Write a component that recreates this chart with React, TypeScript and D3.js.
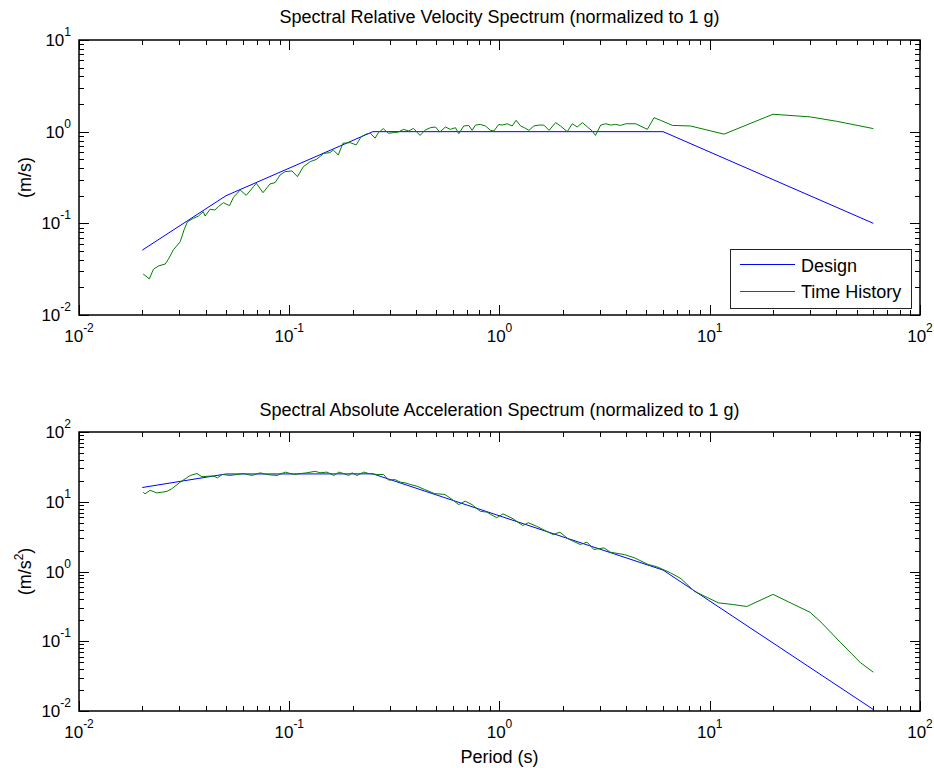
import React from 'react';
import * as d3 from 'd3';

// ---------- Data ----------
const velDesignT = [0.02, 0.05, 0.25, 6, 60];
const velDesign = [0.051, 0.2, 1.0, 1.0, 0.1];

const velHistT = [
  0.0202, 0.0216, 0.0226, 0.0239, 0.0257, 0.0266, 0.0281, 0.0303, 0.0316, 0.0328,
  0.035, 0.037, 0.039, 0.0398, 0.042, 0.0443, 0.046, 0.0486, 0.052, 0.0543,
  0.0584, 0.0624, 0.0676, 0.0697, 0.075, 0.081, 0.0856, 0.0905, 0.0955, 0.103,
  0.1094, 0.1167, 0.126, 0.135, 0.146, 0.156, 0.162, 0.171, 0.18, 0.195,
  0.208, 0.22, 0.233, 0.243, 0.256, 0.265, 0.28, 0.296, 0.312, 0.33,
  0.35, 0.37, 0.39, 0.419, 0.444, 0.469, 0.496, 0.52, 0.553, 0.584,
  0.617, 0.64, 0.676, 0.714, 0.741, 0.769, 0.81, 0.858, 0.906, 0.94,
  0.993, 1.03, 1.088, 1.149, 1.2, 1.26, 1.315, 1.38, 1.457, 1.54,
  1.625, 1.72, 1.85, 1.95, 2.1, 2.22, 2.34, 2.48, 2.62, 2.76,
  2.86, 3.03, 3.2, 3.38, 3.57, 3.77, 3.98, 4.44, 5.05, 5.43,
  5.84, 6.64, 8.1, 11.7, 20, 30, 40, 60,
];
const velHist = [
  0.028, 0.0248, 0.0316, 0.0343, 0.036, 0.0405, 0.0513, 0.063, 0.0848, 0.104,
  0.1135, 0.12, 0.134, 0.12, 0.1425, 0.14, 0.152, 0.168, 0.156, 0.192,
  0.231, 0.202, 0.251, 0.274, 0.216, 0.269, 0.278, 0.337, 0.366, 0.373,
  0.323, 0.415, 0.471, 0.5, 0.58, 0.59, 0.63, 0.557, 0.747, 0.759,
  0.716, 0.882, 0.944, 0.96, 0.85, 0.97, 1.08, 0.96, 0.975, 0.99,
  1.06, 1.017, 1.087, 0.91, 1.043, 1.105, 1.124, 0.99, 1.124, 1.06,
  1.105, 0.95, 1.153, 1.17, 1.034, 1.18, 1.2, 1.153, 1.034, 1.017,
  1.2, 1.18, 1.22, 1.153, 1.33, 1.153, 1.105, 1.034, 1.153, 1.18,
  1.18, 1.034, 1.254, 1.153, 1.0, 1.22, 1.124, 1.254, 1.124, 1.017,
  0.91, 1.18, 1.22, 1.18, 1.2, 1.17, 1.22, 1.22, 1.06, 1.42,
  1.33, 1.17, 1.153, 0.94, 1.55, 1.45, 1.3, 1.08,
];

const accDesignT = [0.02, 0.05, 0.25, 6, 60];
const accDesign = [16, 25, 25.1, 1.047, 0.0105];

const accHistT = [
  0.0202, 0.0206, 0.0218, 0.0234, 0.0248, 0.0262, 0.0276, 0.0303, 0.0338, 0.0364,
  0.0384, 0.0413, 0.0437, 0.0455, 0.048, 0.0524, 0.0564, 0.0606, 0.0664, 0.0728,
  0.078, 0.0874, 0.0957, 0.105, 0.121, 0.133, 0.14, 0.151, 0.163, 0.172,
  0.181, 0.192, 0.199, 0.21, 0.226, 0.239, 0.262, 0.281, 0.297, 0.318,
  0.338, 0.36, 0.376, 0.405, 0.44, 0.49, 0.55, 0.59, 0.64, 0.687,
  0.74, 0.81, 0.87, 0.97, 1.04, 1.16, 1.29, 1.37, 1.5, 1.67,
  1.8, 1.94, 2.12, 2.42, 2.61, 2.81, 3.14, 3.37, 3.92, 4.39,
  5.09, 5.6, 6.5, 7.3, 8.45, 9.8, 11.0, 12.8, 15, 20,
  30, 33.8, 42, 52.2, 60,
];
const accHist = [
  13.7, 13.0, 14.6, 13.4, 13.7, 14.1, 15.3, 19.1, 23.8, 25.4,
  22.8, 23.3, 23.3, 22.0, 24.6, 23.8, 24.6, 25.4, 23.8, 26.0,
  24.6, 23.8, 26.6, 24.6, 26.0, 27.3, 26.0, 26.6, 23.8, 26.6,
  25.4, 23.8, 26.0, 23.8, 26.6, 25.4, 24.6, 24.6, 20.4, 20.8,
  19.1, 18.5, 17.7, 16.7, 15.0, 13.1, 12.7, 11.0, 9.1, 10.2,
  9.1, 7.3, 7.1, 5.9, 6.7, 5.7, 4.56, 5.0, 4.46, 3.78,
  3.39, 3.66, 2.94, 2.44, 2.63, 2.07, 2.18, 1.89, 1.75, 1.57,
  1.26, 1.17, 0.96, 0.79, 0.52, 0.42, 0.355, 0.337, 0.315, 0.47,
  0.26, 0.188, 0.095, 0.049, 0.036,
];

const xDecades = [-2, -1, 0, 1, 2];
const velDecades = [-2, -1, 0, 1];
const accDecades = [-2, -1, 0, 1, 2];

const titles = [
  'Spectral Relative Velocity Spectrum (normalized to 1 g)',
  'Spectral Absolute Acceleration Spectrum (normalized to 1 g)',
];
const legendLabels = ['Design', 'Time History'];
const xLabel = 'Period (s)';

// ---------- Layout ----------
const W = 934;
const H = 768;
const left = 79;
const right = 920;
const FONT = '"Liberation Sans", Arial, sans-serif';
const BLUE = '#0000ff';
const GREEN = '#008000';

type PanelProps = {
  top: number;
  bottom: number;
  yDomain: [number, number];
  yDecades: number[];
  design: [number[], number[]];
  hist: [number[], number[]];
  title: string;
  titleY: number;
  yLabel: React.ReactNode;
  legend?: boolean;
};

function minorValues(d0: number, d1: number): number[] {
  const out: number[] = [];
  for (let d = d0; d < d1; d++) {
    for (let m = 2; m <= 9; m++) out.push(m * Math.pow(10, d));
  }
  return out;
}

function Panel(p: PanelProps) {
  const x = d3.scaleLog().domain([1e-2, 1e2]).range([left, right]);
  const y = d3.scaleLog().domain(p.yDomain).range([p.bottom, p.top]);
  const line = d3
    .line<[number, number]>()
    .x((d) => x(d[0]))
    .y((d) => y(d[1]));
  const designPts = p.design[0].map((t, i) => [t, p.design[1][i]] as [number, number]);
  const histPts = p.hist[0].map((t, i) => [t, p.hist[1][i]] as [number, number]);

  const xMinor = minorValues(-2, 2);
  const yMinor = minorValues(p.yDecades[0], p.yDecades[p.yDecades.length - 1]);
  const MAJ = 10;
  const MIN = 5;
  const tickStroke = { stroke: '#000', strokeWidth: 1 };

  return (
    <g>
      <text x={(left + right) / 2} y={p.titleY} textAnchor="middle" fontSize={18} fontFamily={FONT} fill="#000">
        {p.title}
      </text>
      {/* Lines */}
      <path d={line(designPts) || ''} fill="none" stroke={BLUE} strokeWidth={1} />
      <path d={line(histPts) || ''} fill="none" stroke={GREEN} strokeWidth={1} />
      {/* x ticks */}
      {xDecades.map((d) => {
        const xx = Math.round(x(Math.pow(10, d))) + 0.5;
        return (
          <g key={'xM' + d}>
            <line x1={xx} x2={xx} y1={p.bottom} y2={p.bottom - MAJ} {...tickStroke} />
            <line x1={xx} x2={xx} y1={p.top} y2={p.top + MAJ} {...tickStroke} />
            <text x={x(Math.pow(10, d))} y={p.bottom + 27} textAnchor="middle" fontFamily={FONT} fontSize={17} fill="#000">
              10<tspan dy={-10} fontSize={12}>{d}</tspan>
            </text>
          </g>
        );
      })}
      {xMinor.map((v, i) => {
        const xx = Math.round(x(v)) + 0.5;
        return (
          <g key={'xm' + i}>
            <line x1={xx} x2={xx} y1={p.bottom} y2={p.bottom - MIN} {...tickStroke} />
            <line x1={xx} x2={xx} y1={p.top} y2={p.top + MIN} {...tickStroke} />
          </g>
        );
      })}
      {/* y ticks */}
      {p.yDecades.map((d) => {
        const yy = Math.round(y(Math.pow(10, d))) + 0.5;
        return (
          <g key={'yM' + d}>
            <line x1={left} x2={left + MAJ} y1={yy} y2={yy} {...tickStroke} />
            <line x1={right} x2={right - MAJ} y1={yy} y2={yy} {...tickStroke} />
            <text x={71} y={y(Math.pow(10, d)) + 6} textAnchor="end" fontFamily={FONT} fontSize={17} fill="#000">
              10<tspan dy={-10} fontSize={12}>{d}</tspan>
            </text>
          </g>
        );
      })}
      {yMinor.map((v, i) => {
        const yy = Math.round(y(v)) + 0.5;
        return (
          <g key={'ym' + i}>
            <line x1={left} x2={left + MIN} y1={yy} y2={yy} {...tickStroke} />
            <line x1={right} x2={right - MIN} y1={yy} y2={yy} {...tickStroke} />
          </g>
        );
      })}
      {/* box */}
      <rect x={left} y={p.top} width={right - left} height={p.bottom - p.top} fill="none" stroke="#000" strokeWidth={1.5} />
      {/* y label */}
      <text
        transform={`translate(31, ${(p.top + p.bottom) / 2}) rotate(-90)`}
        textAnchor="middle"
        fontFamily={FONT}
        fontSize={18}
        fill="#000"
      >
        {p.yLabel}
      </text>
      {p.legend && (
        <g>
          <rect x={730.5} y={249.5} width={181} height={59} fill="#fff" stroke="#222" strokeWidth={1} />
          <line x1={740} x2={795} y1={264.5} y2={264.5} stroke={BLUE} strokeWidth={1} />
          <line x1={740} x2={795} y1={291.5} y2={291.5} stroke={GREEN} strokeWidth={1} />
          <text x={801} y={272} fontFamily={FONT} fontSize={18} fill="#000">{legendLabels[0]}</text>
          <text x={801} y={298} fontFamily={FONT} fontSize={18} fill="#000">{legendLabels[1]}</text>
        </g>
      )}
    </g>
  );
}

export default function App() {
  return (
    <svg width={W} height={H} style={{ position: 'absolute', left: 0, top: 0, background: '#fff' }}>
      <rect x={0} y={0} width={W} height={H} fill="#fff" />
      <Panel
        top={40}
        bottom={315}
        yDomain={[1e-2, 1e1]}
        yDecades={velDecades}
        design={[velDesignT, velDesign]}
        hist={[velHistT, velHist]}
        title={titles[0]}
        titleY={23}
        yLabel={'(m/s)'}
        legend
      />
      <Panel
        top={432}
        bottom={711}
        yDomain={[1e-2, 1e2]}
        yDecades={accDecades}
        design={[accDesignT, accDesign]}
        hist={[accHistT, accHist]}
        title={titles[1]}
        titleY={416}
        yLabel={
          <>
            (m/s<tspan dy={-8} fontSize={12}>2</tspan>
            <tspan dy={8}>)</tspan>
          </>
        }
      />
      <text x={(left + right) / 2} y={763} textAnchor="middle" fontFamily={FONT} fontSize={18} fill="#000">
        {xLabel}
      </text>
    </svg>
  );
}
